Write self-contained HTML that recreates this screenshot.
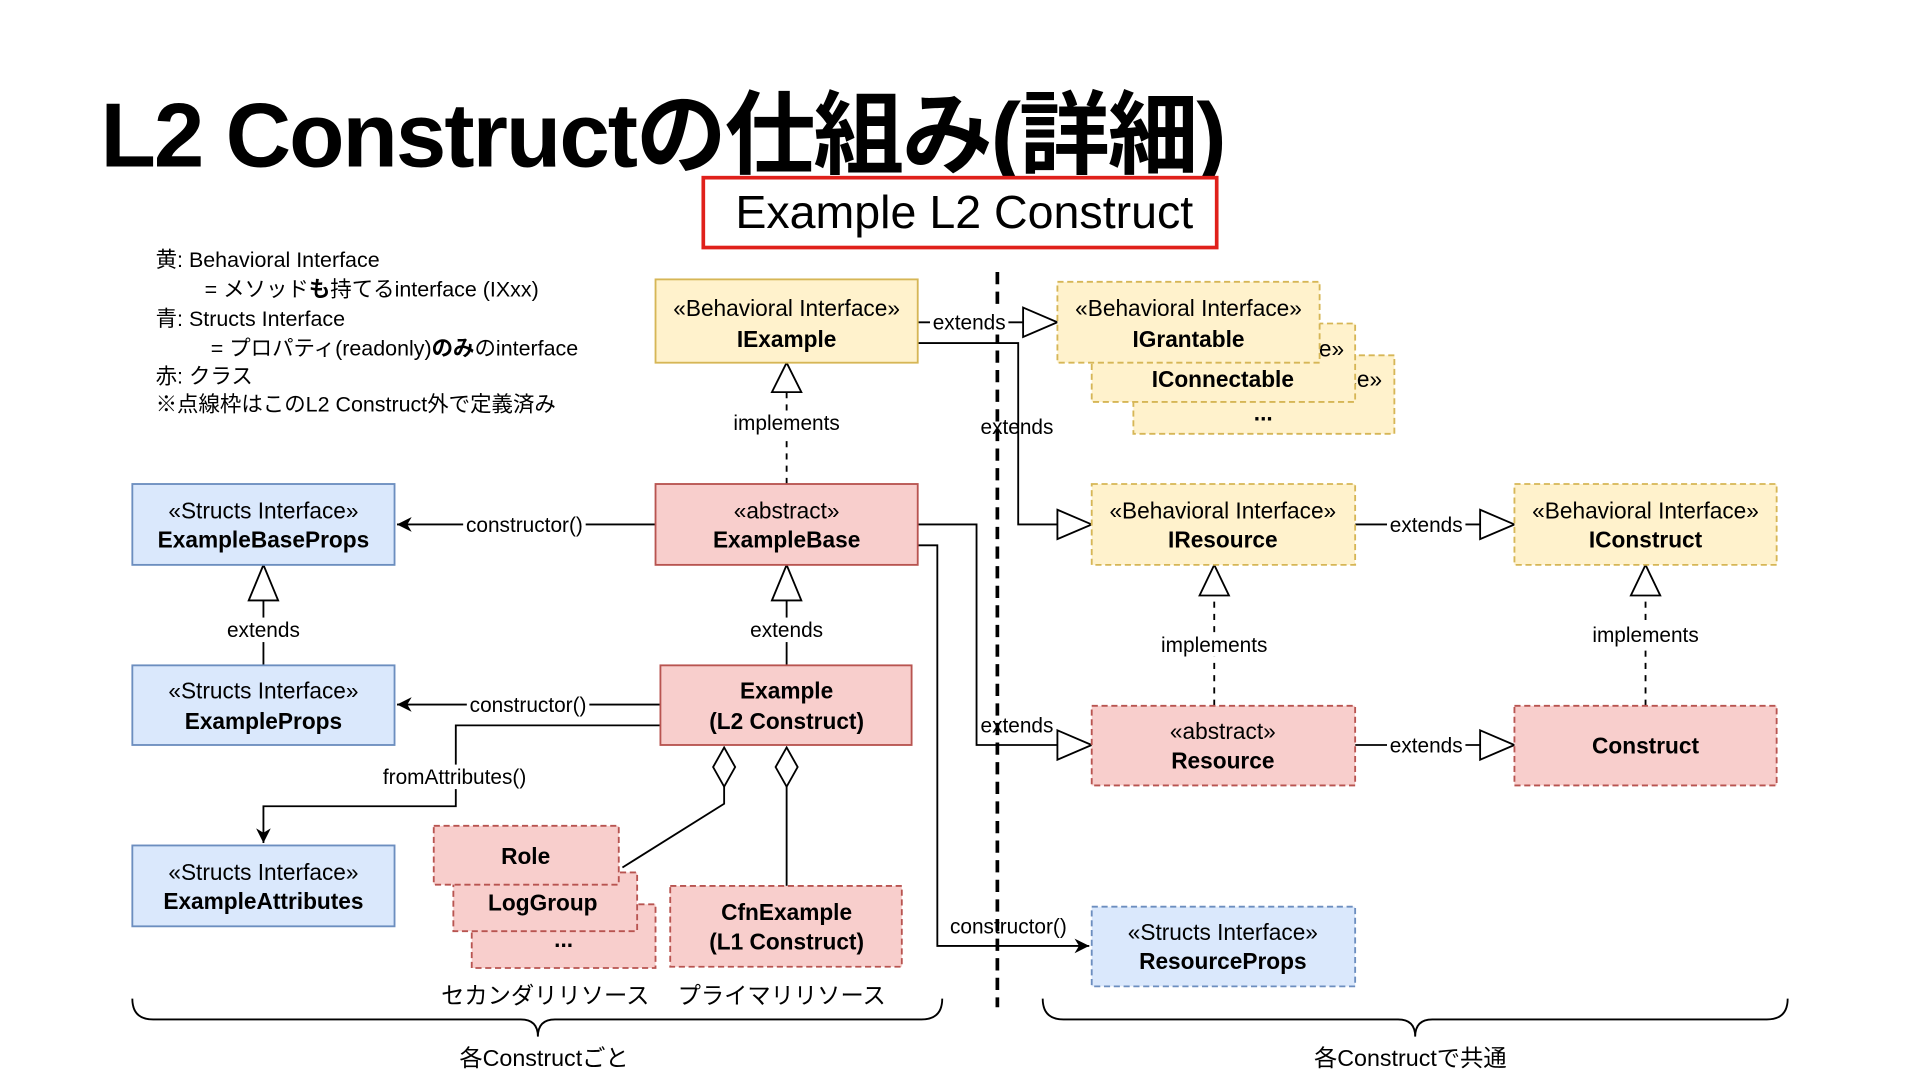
<!DOCTYPE html>
<html><head><meta charset="utf-8"><style>
html,body{margin:0;padding:0;background:#fff;width:1920px;height:1080px;overflow:hidden}
svg text{font-family:"Liberation Sans","Noto Sans CJK JP",sans-serif}
</style></head><body>
<svg width="1920" height="1080" viewBox="0 0 1567 881.4" xmlns="http://www.w3.org/2000/svg">
<defs>
<marker id="fa" viewBox="0 0 10 10" refX="10" refY="5" markerWidth="12" markerHeight="12" markerUnits="userSpaceOnUse" orient="auto"><path d="M0,0 L10,5 L0,10 L3,5 z" fill="#000"/></marker>
</defs>
<text x="82" y="136" font-size="74" font-weight="bold" letter-spacing="-1.6">L2 Constructの仕組み(詳細)</text>
<rect x="574" y="145" width="419" height="57" fill="#fff" stroke="#e0201b" stroke-width="3"/>
<text x="787" y="186" font-size="38" text-anchor="middle">Example L2 Construct</text>

<g font-size="17.5">
<text x="127" y="218">黄: Behavioral Interface</text>
<text x="167" y="242">= メソッド<tspan font-weight="bold">も</tspan>持てるinterface (IXxx)</text>
<text x="127" y="266">青: Structs Interface</text>
<text x="172" y="290">= プロパティ(readonly)<tspan font-weight="bold">のみ</tspan>のinterface</text>
<text x="127" y="313">赤: クラス</text>
<text x="127" y="336">※点線枠はこのL2 Construct外で定義済み</text>
</g>

<line x1="814" y1="222" x2="814" y2="822" stroke="#000" stroke-width="3" stroke-dasharray="10,6"/>

<g stroke="#000" stroke-width="1.5" fill="none">
<polyline points="749,263 835,263"/>
<polyline points="749,280 831,280 831,428 863,428"/>
<polyline points="642,395 642,320" stroke-dasharray="5,5"/>
<polyline points="535,428 324,428" marker-end="url(#fa)"/>
<polyline points="642,543 642,490"/>
<polyline points="215,543 215,490"/>
<polyline points="539,575 324,575" marker-end="url(#fa)"/>
<polyline points="539,592 372,592 372,658 215,658 215,688" marker-end="url(#fa)"/>
<polyline points="591,642 591,656 508,708"/>
<polyline points="642,642 642,723"/>
<polyline points="749,428 797,428 797,608 863,608"/>
<polyline points="749,445 765,445 765,772 889,772" marker-end="url(#fa)"/>
<polyline points="1106,428 1208,428"/>
<polyline points="1106,608 1208,608"/>
<polyline points="991,576 991,486" stroke-dasharray="5,5"/>
<polyline points="1343,576 1343,486" stroke-dasharray="5,5"/>
</g>
<g stroke="#000" stroke-width="1.5" fill="#fff">
<polygon points="835,251 863,263 835,275"/>
<polygon points="863,416 891,428 863,440"/>
<polygon points="863,596 891,608 863,620"/>
<polygon points="1208,416 1236,428 1208,440"/>
<polygon points="1208,596 1236,608 1208,620"/>
<polygon points="630,320 642,296 654,320"/>
<polygon points="630,490 642,461 654,490"/>
<polygon points="203,490 215,461 227,490"/>
<polygon points="979,486 991,461 1003,486"/>
<polygon points="1331,486 1343,461 1355,486"/>
<polygon points="591,610 600,626 591,642 582,626"/>
<polygon points="642,610 651,626 642,642 633,626"/>
</g>

<g font-size="18.5" text-anchor="middle">
<rect x="925" y="290" width="213" height="64" fill="#fff2cc" stroke="#d6b656" stroke-width="1.5" stroke-dasharray="5,3"/>
<text x="1128" y="316" text-anchor="end">«Behavioral Interface»</text>
<text x="1031" y="343" font-weight="bold">...</text>
<rect x="891" y="264" width="215" height="64" fill="#fff2cc" stroke="#d6b656" stroke-width="1.5" stroke-dasharray="5,3"/>
<text x="1097" y="291" text-anchor="end">«Behavioral Interface»</text>
<text x="998" y="316" font-weight="bold">IConnectable</text>
<rect x="863" y="230" width="214" height="66" fill="#fff2cc" stroke="#d6b656" stroke-width="1.5" stroke-dasharray="5,3"/>
<text x="970" y="258">«Behavioral Interface»</text>
<text x="970" y="283" font-weight="bold">IGrantable</text>

<rect x="535" y="228" width="214" height="68" fill="#fff2cc" stroke="#d6b656" stroke-width="1.5"/>
<text x="642" y="258">«Behavioral Interface»</text>
<text x="642" y="283" font-weight="bold">IExample</text>

<rect x="535" y="395" width="214" height="66" fill="#f8cecc" stroke="#b85450" stroke-width="1.5"/>
<text x="642" y="423">«abstract»</text>
<text x="642" y="447" font-weight="bold">ExampleBase</text>

<rect x="539" y="543" width="205" height="65" fill="#f8cecc" stroke="#b85450" stroke-width="1.5"/>
<text x="642" y="570" font-weight="bold">Example</text>
<text x="642" y="595" font-weight="bold">(L2 Construct)</text>

<rect x="108" y="395" width="214" height="66" fill="#dae8fc" stroke="#6c8ebf" stroke-width="1.5"/>
<text x="215" y="423">«Structs Interface»</text>
<text x="215" y="447" font-weight="bold">ExampleBaseProps</text>

<rect x="108" y="543" width="214" height="65" fill="#dae8fc" stroke="#6c8ebf" stroke-width="1.5"/>
<text x="215" y="570">«Structs Interface»</text>
<text x="215" y="595" font-weight="bold">ExampleProps</text>

<rect x="108" y="690" width="214" height="66" fill="#dae8fc" stroke="#6c8ebf" stroke-width="1.5"/>
<text x="215" y="718">«Structs Interface»</text>
<text x="215" y="742" font-weight="bold">ExampleAttributes</text>

<rect x="385" y="738" width="150" height="52" fill="#f8cecc" stroke="#b85450" stroke-width="1.5" stroke-dasharray="5,3"/>
<text x="460" y="773" font-weight="bold">...</text>
<rect x="370" y="712" width="150" height="48" fill="#f8cecc" stroke="#b85450" stroke-width="1.5" stroke-dasharray="5,3"/>
<text x="443" y="743" font-weight="bold">LogGroup</text>
<rect x="354" y="674" width="151" height="48" fill="#f8cecc" stroke="#b85450" stroke-width="1.5" stroke-dasharray="5,3"/>
<text x="429" y="705" font-weight="bold">Role</text>

<rect x="547" y="723" width="189" height="66" fill="#f8cecc" stroke="#b85450" stroke-width="1.5" stroke-dasharray="5,3"/>
<text x="642" y="751" font-weight="bold">CfnExample</text>
<text x="642" y="775" font-weight="bold">(L1 Construct)</text>

<rect x="891" y="395" width="215" height="66" fill="#fff2cc" stroke="#d6b656" stroke-width="1.5" stroke-dasharray="5,3"/>
<text x="998" y="423">«Behavioral Interface»</text>
<text x="998" y="447" font-weight="bold">IResource</text>

<rect x="1236" y="395" width="214" height="66" fill="#fff2cc" stroke="#d6b656" stroke-width="1.5" stroke-dasharray="5,3"/>
<text x="1343" y="423">«Behavioral Interface»</text>
<text x="1343" y="447" font-weight="bold">IConstruct</text>

<rect x="891" y="576" width="215" height="65" fill="#f8cecc" stroke="#b85450" stroke-width="1.5" stroke-dasharray="5,3"/>
<text x="998" y="603">«abstract»</text>
<text x="998" y="627" font-weight="bold">Resource</text>

<rect x="1236" y="576" width="214" height="65" fill="#f8cecc" stroke="#b85450" stroke-width="1.5" stroke-dasharray="5,3"/>
<text x="1343" y="615" font-weight="bold">Construct</text>

<rect x="891" y="740" width="215" height="65" fill="#dae8fc" stroke="#6c8ebf" stroke-width="1.5" stroke-dasharray="5,3"/>
<text x="998" y="767">«Structs Interface»</text>
<text x="998" y="791" font-weight="bold">ResourceProps</text>
</g>

<g font-size="17" text-anchor="middle">
<rect x="759" y="253" width="64" height="20" fill="#fff"/><text x="791" y="269">extends</text>
<text x="830" y="354">extends</text>
<rect x="596" y="335" width="92" height="20" fill="#fff"/><text x="642" y="351">implements</text>
<rect x="378" y="418" width="100" height="20" fill="#fff"/><text x="428" y="434">constructor()</text>
<rect x="610" y="504" width="64" height="20" fill="#fff"/><text x="642" y="520">extends</text>
<rect x="183" y="504" width="64" height="20" fill="#fff"/><text x="215" y="520">extends</text>
<rect x="381" y="565" width="100" height="20" fill="#fff"/><text x="431" y="581">constructor()</text>
<rect x="309" y="624" width="124" height="20" fill="#fff"/><text x="371" y="640">fromAttributes()</text>
<text x="830" y="598">extends</text>
<text x="823" y="762">constructor()</text>
<rect x="1132" y="418" width="64" height="20" fill="#fff"/><text x="1164" y="434">extends</text>
<rect x="1132" y="598" width="64" height="20" fill="#fff"/><text x="1164" y="614">extends</text>
<rect x="945" y="516" width="92" height="20" fill="#fff"/><text x="991" y="532">implements</text>
<rect x="1297" y="508" width="92" height="20" fill="#fff"/><text x="1343" y="524">implements</text>
</g>

<g stroke="#000" stroke-width="1.5" fill="none">
<path d="M108,815 Q108,832 125,832 L425,832 Q439,832 439,846 Q439,832 453,832 L752,832 Q769,832 769,815"/>
<path d="M851,815 Q851,832 868,832 L1141,832 Q1155,832 1155,846 Q1155,832 1169,832 L1442,832 Q1459,832 1459,815"/>
</g>
<g font-size="19" text-anchor="middle">
<text x="445" y="819">セカンダリリソース</text>
<text x="638" y="819">プライマリリソース</text>
<text x="444" y="870">各Constructごと</text>
<text x="1151" y="870">各Constructで共通</text>
</g>
</svg>
</body></html>
